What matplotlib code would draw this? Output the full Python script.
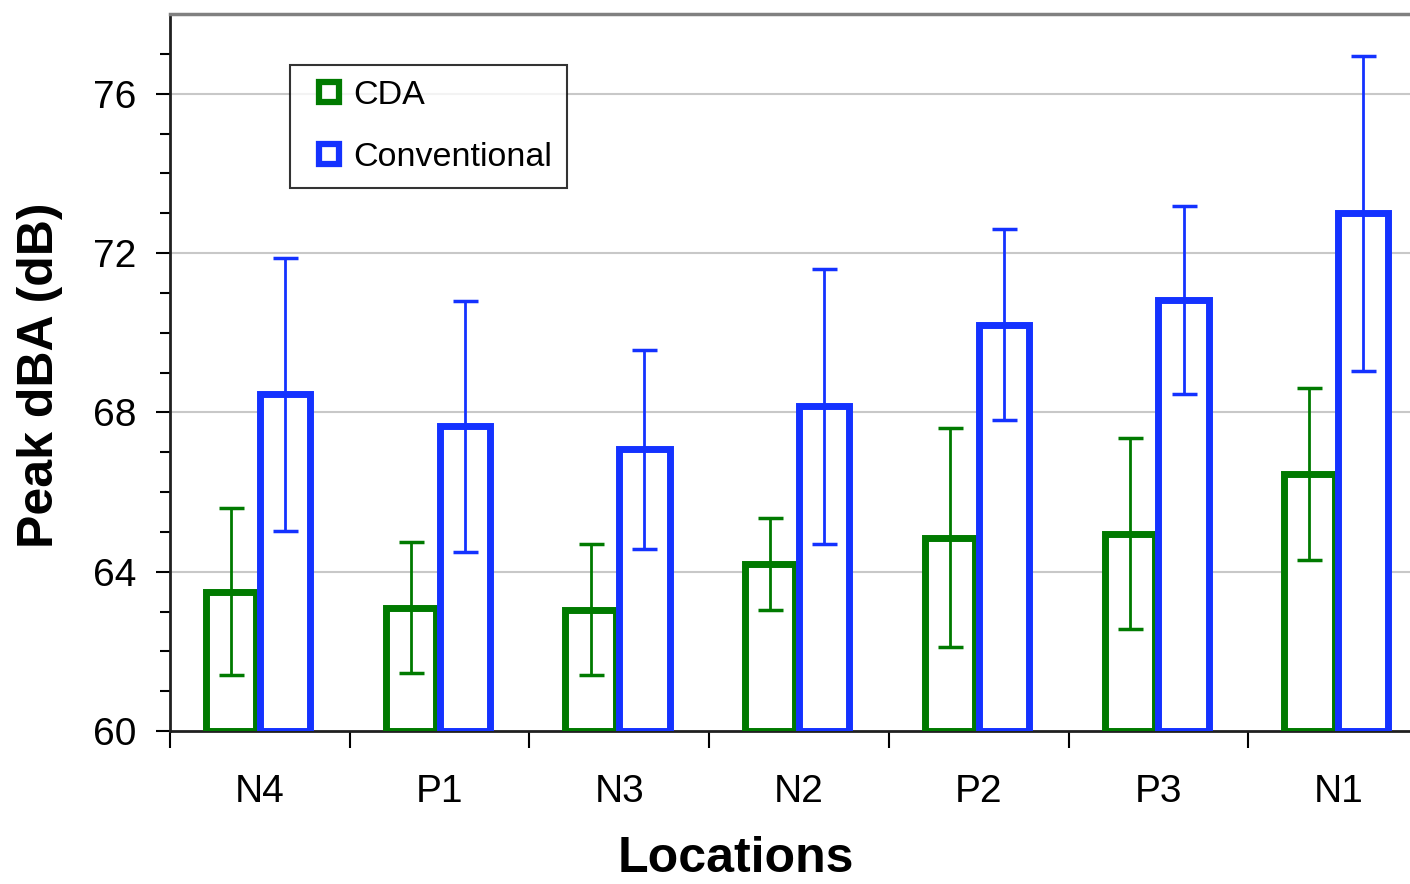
import matplotlib
matplotlib.use("Agg")
import matplotlib.pyplot as plt
import numpy as np
from matplotlib.lines import Line2D

locations = ["N4", "P1", "N3", "N2", "P2", "P3", "N1"]
cda_mean = [63.5, 63.1, 63.05, 64.2, 64.85, 64.95, 66.45]
cda_sd = [2.1, 1.65, 1.65, 1.15, 2.75, 2.4, 2.15]
conv_mean = [68.45, 67.65, 67.07, 68.15, 70.2, 70.82, 73.0]
conv_sd = [3.42, 3.15, 2.5, 3.45, 2.4, 2.37, 3.95]

green = "#007A00"
blue = "#1432FF"

plt.rcParams['font.family'] = ['Liberation Sans', 'DejaVu Sans']

fig = plt.figure(figsize=(14.1, 8.84), dpi=100)
ax = fig.add_axes([170/1410, 1-731/884, 1258/1410, (731-14)/884])

x = np.arange(len(locations)) + 0.5
w = 0.28
off_g = -0.16
off_b = 0.14

ax.bar(x + off_g, np.array(cda_mean) - 60, bottom=60, width=w, facecolor="white",
       edgecolor=green, linewidth=5, zorder=3)
ax.errorbar(x + off_g, cda_mean, yerr=cda_sd, fmt="none", ecolor=green,
            elinewidth=2, capsize=9, capthick=2.5, zorder=4)
ax.bar(x + off_b, np.array(conv_mean) - 60, bottom=60, width=w, facecolor="white",
       edgecolor=blue, linewidth=5, zorder=5)
ax.errorbar(x + off_b, conv_mean, yerr=conv_sd, fmt="none", ecolor=blue,
            elinewidth=2, capsize=9, capthick=2.5, zorder=6)

ax.set_xlim(0, len(locations))
ax.set_ylim(60, 78)

ax.set_yticks([60, 64, 68, 72, 76])
ax.set_yticks(np.arange(60, 78, 1), minor=True)
ax.tick_params(axis='y', which='major', length=10, width=1.5, labelsize=28, pad=14, direction='out')
ax.tick_params(axis='y', which='minor', length=7, width=1.5, direction='out')

ax.set_xticks(np.arange(0, len(locations) + 1))
ax.set_xticklabels([])
ax.set_xticks(x, minor=True)
ax.set_xticklabels(locations, minor=True)
ax.tick_params(axis='x', which='major', length=12, width=1.5, direction='out')
ax.tick_params(axis='x', which='minor', length=0, labelsize=28, pad=31)

for g in [64, 68, 72, 76]:
    ax.axhline(g, color="#c8c8c8", linewidth=1.5, zorder=1)

ax.spines['left'].set_linewidth(2)
ax.spines['left'].set_color('#202020')
ax.spines['bottom'].set_linewidth(2)
ax.spines['bottom'].set_color('#202020')
ax.spines['top'].set_linewidth(2.5)
ax.spines['top'].set_color('#808080')
ax.spines['right'].set_visible(False)

handles = [
    Line2D([], [], linestyle='none', marker='s', markersize=15, markerfacecolor='white',
           markeredgecolor=green, markeredgewidth=4.5),
    Line2D([], [], linestyle='none', marker='s', markersize=15, markerfacecolor='white',
           markeredgecolor=blue, markeredgewidth=4.5),
]
leg = ax.legend(handles, ["CDA", "Conventional"], loc='upper left',
                bbox_to_anchor=((290-170)/1258, (731-65)/717),
                fontsize=24.5, frameon=True, fancybox=False, shadow=False,
                handlelength=1.4, handletextpad=0.0, labelspacing=0.9,
                borderpad=0.45, borderaxespad=0)
leg.get_frame().set_edgecolor('black')
leg.get_frame().set_linewidth(1.5)
leg.set_zorder(10)

fig.text(736/1410, 1-872/884, "Locations", fontsize=36, fontweight='bold',
         ha='center', va='baseline')
fig.text(40/1410, 1-375/884, "Peak dBA (dB)", fontsize=36, fontweight='bold',
         ha='center', va='center', rotation=90)

fig.savefig("out.png", dpi=100)
